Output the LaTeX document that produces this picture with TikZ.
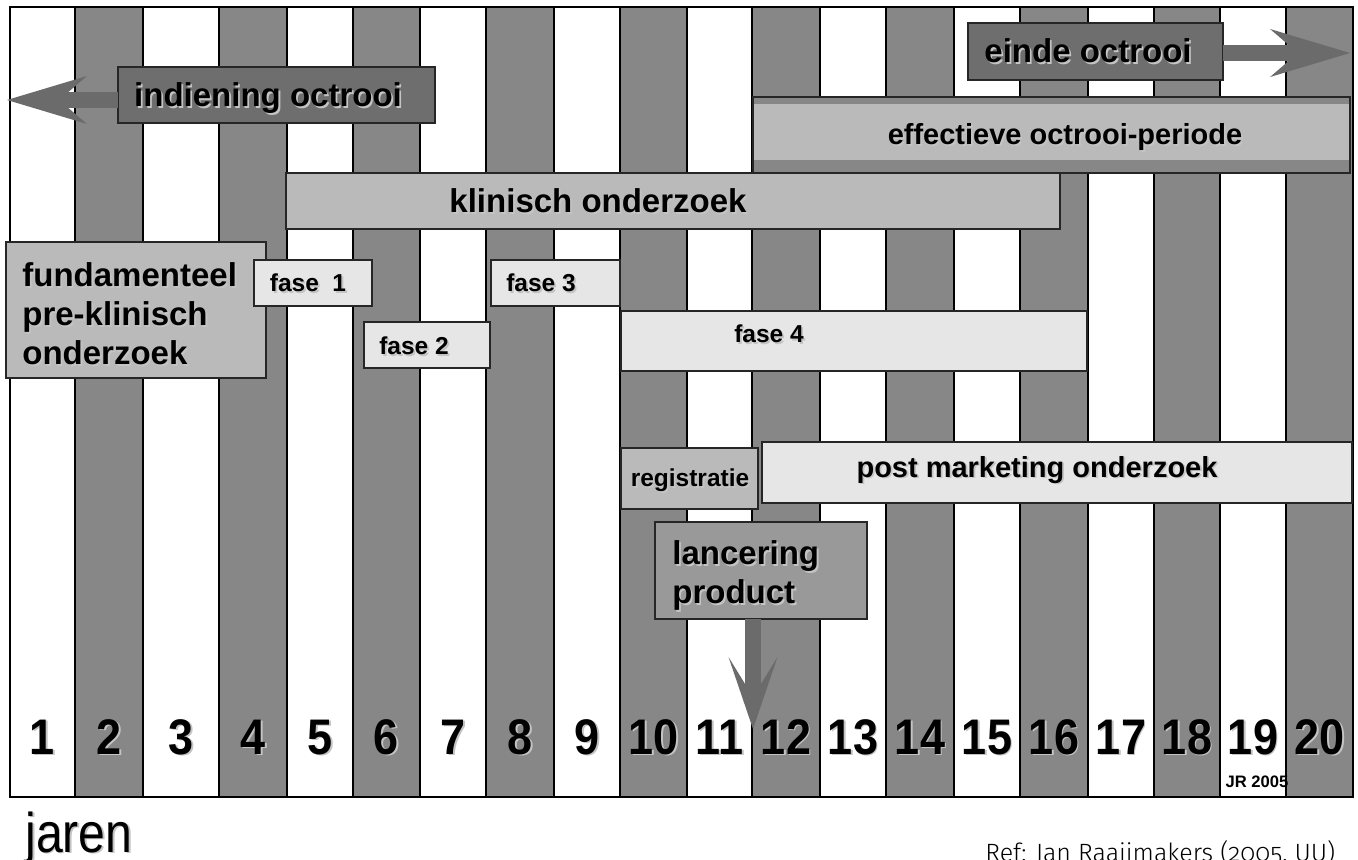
\documentclass[tikz,border=0pt]{standalone}
\usepackage{fontspec}
\setmainfont{Liberation Sans}
\newfontfamily\narrowfont[FakeStretch=0.86]{Liberation Sans}
\newfontfamily\yearfont[FakeStretch=0.9]{Liberation Sans}
\newfontfamily\reffont[Numbers=OldStyle]{Fira Sans Light}
\usetikzlibrary{positioning,fit,arrows.meta,calc}

\definecolor{colgray}{HTML}{878787}
\definecolor{darkbox}{HTML}{6E6E6E}
\definecolor{midbox}{HTML}{999999}
\definecolor{lightbox}{HTML}{BABABA}
\definecolor{palebox}{HTML}{E6E6E6}
\definecolor{arrowgray}{HTML}{6B6B6B}
\definecolor{shadowgray}{HTML}{C4C4C4}

\newcommand{\shd}[1]{\leavevmode\rlap{\kern0.9pt\raisebox{-0.9pt}{\textcolor{shadowgray}{#1}}}#1}

\tikzset{
  bar/.style={draw=black!85, line width=0.75pt, inner sep=0pt, outer sep=0pt},
  lbl/.style={font=\bfseries\fontsize{16.5}{19.5}\selectfont, inner sep=0pt, anchor=base},
  midlbl/.style={font=\bfseries\fontsize{14.5}{17}\selectfont, inner sep=0pt, anchor=base},
  smalllbl/.style={font=\bfseries\fontsize{12.25}{14}\selectfont, inner sep=0pt, anchor=base},
  year/.style={font=\yearfont\bfseries\fontsize{25}{30}\selectfont, inner sep=0pt, anchor=base},
  blockarrow/.style={draw=arrowgray, line width=8pt,
    -{Stealth[length=40pt, width=24pt, inset=14pt, line width=0pt]}},
}

\begin{document}
\begin{tikzpicture}[x=0.5pt, y=-0.5pt]
\useasboundingbox (0,0) rectangle (1358,860);

% kolommen per jaar
\foreach \a/\b [count=\i] in {10/75,75/143,143/219,219/287,287/353,353/420,420/486,486/554,554/620,620/687,687/752,752/820,820/886,886/954,954/1020,1020/1088,1088/1154,1154/1220,1220/1286,1286/1353}{
  \ifodd\i \colorlet{colfill}{white}\else\colorlet{colfill}{colgray}\fi
  \draw[line width=1pt, fill=colfill] (\a,7) rectangle (\b,797);
  \node[year] (y\i) at ({(\a+\b)/2},754) {\shd{\i}};
}
\node[font=\bfseries\fontsize{8.3}{10}\selectfont, inner sep=0pt, anchor=base] (jr) at (1257,787) {JR 2005};

% octrooi
\node[bar, fill=darkbox, fit={(118,67) (435,123)}] (indien) {};
\node[lbl] at (268,107) {\shd{indiening octrooi}};
\coordinate (pa) at (7,100);
\draw[blockarrow] (indien.west |- pa) -- (pa);

\node[bar, fill=darkbox, fit={(968,23) (1223,80)}] (einde) {};
\node[lbl] at (1088,63) {\shd{einde octrooi}};
\coordinate (pb) at (1350,53);
\draw[blockarrow] (einde.east |- pb) -- (pb);

\node[bar, fill=colgray, fit={(753,97) (1350,173)}] (effband) {};
\node[fill=lightbox, inner sep=0pt, fit={(753.8,104) (1349.2,160)}] (eff) {};
\node[midlbl] at (1065,145) {\shd{effectieve octrooi-periode}};

% onderzoek
\node[bar, fill=lightbox, fit={(286,173) (1060,229)}] (klin) {};
\node[lbl] at (598,213) {\shd{klinisch onderzoek}};

\node[bar, fill=lightbox, fit={(6,242) (266,378)}] (fund) {};
\node[lbl, align=left, anchor=north west] at (22,262) {\shd{fundamenteel}\\\shd{pre-klinisch}\\\shd{onderzoek}};

% fases
\node[bar, fill=palebox, fit={(254,260) (372,306)}] (f1) {};
\node[smalllbl] at (308,292) {\shd{fase~~1}};
\node[bar, fill=palebox, fit={(364,322) (490,368)}] (f2) {};
\node[smalllbl] at (414,355) {\shd{fase 2}};
\node[bar, fill=palebox, fit={(491,260) (620,306)}] (f3) {};
\node[smalllbl] at (541,292) {\shd{fase 3}};
\node[bar, fill=palebox, fit={(621,311) (1087,371)}] (f4) {};
\node[smalllbl] at (769,343) {\shd{fase 4}};

% markt
\node[bar, fill=lightbox, fit={(621,448) (758,509)}] (reg) {};
\node[smalllbl] at (690,487) {\shd{registratie}};
\node[bar, fill=palebox, fit={(762,442) (1352,503)}] (pmo) {};
\node[midlbl] at (1037,477) {\shd{post marketing onderzoek}};

\node[bar, fill=midbox, fit={(655,522) (867,619)}] (lanc) {};
\node[lbl, align=left, anchor=north west] at (672,540) {\shd{lancering}\\\shd{product}};
\coordinate (pc) at (753,729);
\draw[blockarrow, -{Stealth[length=36pt, width=24.5pt, inset=20pt, line width=0pt]}] (lanc.south -| pc) -- (pc);

% onderschriften
\node[font=\narrowfont\fontsize{28}{32}\selectfont, inner sep=0pt, anchor=base west] (jaren) at (25,852) {\shd{jaren}};
\node[font=\reffont\fontsize{12.5}{15}\selectfont, inner sep=0pt, anchor=base west] (ref) at (985,861) {Ref: Jan Raaijmakers (2005, UU)};
\end{tikzpicture}
\end{document}
